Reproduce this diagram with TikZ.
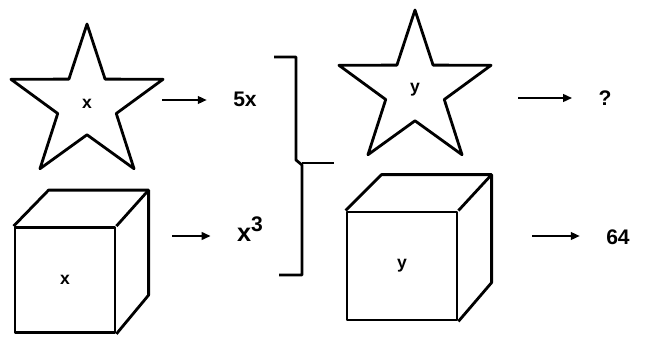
\documentclass[tikz,border=0pt]{standalone}
\usepackage{fontspec}
\setmainfont{Liberation Sans}
\usetikzlibrary{shapes.geometric,arrows.meta}

\begin{document}
\begin{tikzpicture}[x=0.02cm, y=-0.02cm, line width=1.6pt, line join=round, font=\bfseries,
            starbox/.style={star, star points=5, star point ratio=2.6, draw, minimum size=3.2cm, inner sep=0pt},
            face/.style={draw, inner sep=0pt},
            arr/.style={-{Triangle[length=1.8mm,width=1.5mm]}, shorten >=0.5cm},
            lab/.style={inner sep=0pt}]
            \useasboundingbox (0,0) rectangle (650,338);

            \node[starbox] (starx) at (87,104) {x};
            \node[starbox] (stary) at (415,90) {y};
            \node[face, minimum width=2cm, minimum height=2.1cm] (cubex) at (65,280) {x};
            \node[face, minimum width=2.2cm, minimum height=2.16cm] (cubey) at (402,266) {y};

            \draw (cubex.north west) -- ++(35,-36) -- ++(100,0) coordinate (cxb) -- ++(0,105) -- (cubex.south east);
            \draw (cubex.north east) -- (cxb);
            \draw (cubey.north west) -- ++(36,-36) -- ++(110,0) coordinate (cyb) -- ++(0,108) -- (cubey.south east);
            \draw (cubey.north east) -- (cyb);

            \node[lab, font=\bfseries\large] (fivex) at (245,99) {5x};
            \node[lab, font=\bfseries\Large] (xcube) at (250,229) {x\raisebox{0.75ex}{\large 3}};
            \node[lab, font=\bfseries\large] (quest) at (605,98) {?};
            \node[lab, font=\bfseries\large] (sixtyfour) at (618,237) {64};

            \coordinate (s1) at (162,100);
            \coordinate (s2) at (172,236);
            \coordinate (s3) at (518,98);
            \coordinate (s4) at (532,236);
            \draw[arr] (s1) -- (s1 -| fivex.west);
            \draw[arr] (s2) -- (s2 -| xcube.west);
            \draw[arr] (s3) -- (s3 -| quest.west);
            \draw[arr] (s4) -- (s4 -| sixtyfour.west);

            \draw (274,57) -- (296,57) -- (296,160) -- (302,165) -- (302,275) -- (279,275);
            \draw (302,163) -- (334,163);
        \end{tikzpicture}
\end{document}
